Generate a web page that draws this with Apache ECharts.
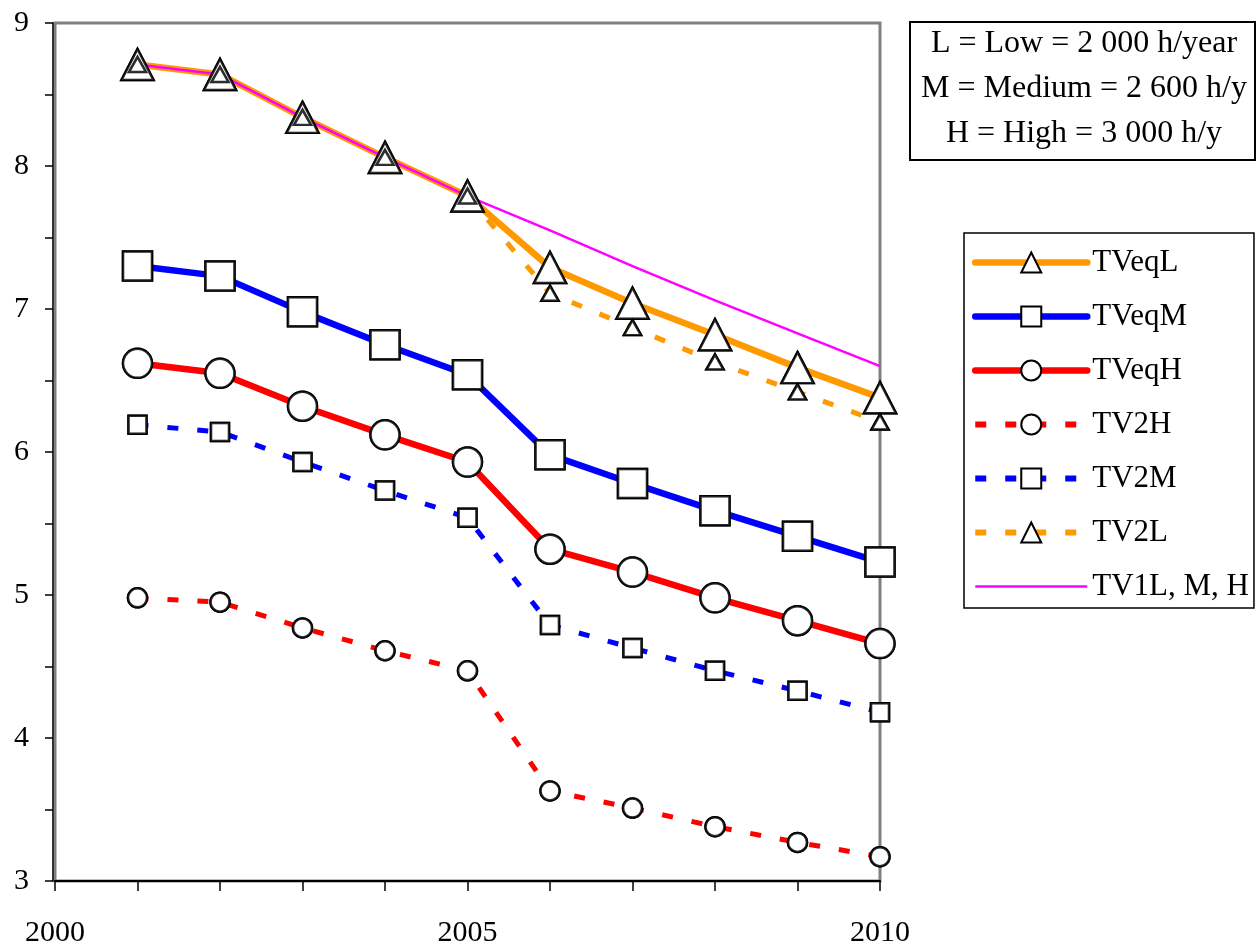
<!DOCTYPE html>
<html><head><meta charset="utf-8">
<script src="https://cdn.jsdelivr.net/npm/echarts@6/dist/echarts.min.js"></script>
<style>html,body{margin:0;padding:0;background:#fff}#c{width:1257px;height:948px}</style>
</head><body><div id="c"></div>
<script>
const years = [2001, 2002, 2003, 2004, 2005, 2006, 2007, 2008, 2009, 2010];
const xTickLabels = [2000, 2005, 2010];
const yTickLabels = [3, 4, 5, 6, 7, 8, 9];
const TVeqL = [8.71, 8.64, 8.34, 8.06, 7.79, 7.29, 7.04, 6.82, 6.59, 6.38];
const TVeqM = [7.30, 7.23, 6.98, 6.75, 6.54, 5.98, 5.78, 5.59, 5.41, 5.23];
const TVeqH = [6.62, 6.55, 6.32, 6.12, 5.93, 5.32, 5.16, 4.98, 4.82, 4.66];
const TV2H  = [4.98, 4.95, 4.77, 4.61, 4.47, 3.63, 3.51, 3.38, 3.27, 3.17];
const TV2M  = [6.19, 6.14, 5.93, 5.73, 5.54, 4.79, 4.63, 4.47, 4.33, 4.18];
const TV2L  = [8.71, 8.64, 8.34, 8.06, 7.79, 7.11, 6.87, 6.63, 6.42, 6.21];
const TV1   = [8.71, 8.64, 8.34, 8.06, 7.79, 7.55, 7.30, 7.06, 6.83, 6.60];
const names = ['TVeqL', 'TVeqM', 'TVeqH', 'TV2H', 'TV2M', 'TV2L', 'TV1L, M, H'];
const boxText = ['L = Low = 2 000 h/year', 'M = Medium = 2 600 h/y', 'H = High = 3 000 h/y'];

const FONT = 'Liberation Serif';
const pairs = arr => years.map((y, i) => [y, arr[i]]);
const mk = {color: '#fff', borderColor: '#000', borderWidth: 2.5};
const DASH = [11, 19];
const SOLID_W = 6.5, DASH_W = 5, THIN_W = 2.5;

function line(name, arr, color, width, dash, symbol, size) {
  return {
    type: 'line', name, data: pairs(arr), z: 2, clip: false,
    symbol: symbol || 'none', symbolSize: size || 0, showSymbol: !!symbol,
    itemStyle: mk,
    lineStyle: {color, width, type: dash || 'solid', cap: 'butt'},
    emphasis: {disabled: true}, silent: true
  };
}
function dots(name, arr, symbol, size) {
  return {
    type: 'scatter', name: name + '_m', data: pairs(arr), z: 3, clip: false,
    symbol, symbolSize: size, itemStyle: mk, silent: true, emphasis: {disabled: true}
  };
}
const legendData = [
  {name: names[0], lineStyle: {width: SOLID_W, cap: 'round'}},
  {name: names[1], lineStyle: {width: SOLID_W, cap: 'round'}},
  {name: names[2], lineStyle: {width: SOLID_W, cap: 'round'}},
  {name: names[3], lineStyle: {width: DASH_W + 1}},
  {name: names[4], lineStyle: {width: DASH_W + 1}},
  {name: names[5], lineStyle: {width: DASH_W + 1}},
  {name: names[6], lineStyle: {width: THIN_W}, itemStyle: {color: 'rgba(0,0,0,0)', borderColor: 'rgba(0,0,0,0)', borderWidth: 0}}
];
const option = {
  animation: false,
  backgroundColor: '#fff',
  grid: {left: 55, right: 377, top: 23, bottom: 67, show: true, borderColor: '#808080', borderWidth: 3},
  xAxis: {
    type: 'value', min: 2000, max: 2010, interval: 1,
    axisLine: {show: true, lineStyle: {color: '#000', width: 2}},
    axisTick: {show: true, length: 10, lineStyle: {color: '#000', width: 1.5}},
    splitLine: {show: false},
    axisLabel: {margin: 37, fontFamily: FONT, fontSize: 30, color: '#000',
      formatter: v => xTickLabels.includes(v) ? String(v) : ''}
  },
  yAxis: {
    type: 'value', min: 3, max: 9, interval: 0.5, offset: 2,
    axisLine: {show: true, lineStyle: {color: '#333', width: 2}},
    axisTick: {show: true, length: 8, lineStyle: {color: '#000', width: 1.5}},
    splitLine: {show: false},
    axisLabel: {margin: 24, fontFamily: FONT, fontSize: 30, color: '#000',
      formatter: v => yTickLabels.includes(v) ? String(v) : ''}
  },
  legend: {
    orient: 'vertical', left: 964, top: 233,
    data: legendData,
    itemWidth: 112, itemHeight: 25, itemGap: 23, itemTextGap: 5,
    padding: [14, 5, 6, 8],
    borderColor: '#000', borderWidth: 1.5, backgroundColor: '#fff',
    selectedMode: false,
    textStyle: {fontFamily: FONT, fontSize: 31, color: '#000'}
  },
  graphic: [
    {type: 'rect', shape: {x: 910, y: 22, width: 345, height: 138}, style: {fill: '#fff', stroke: '#000', lineWidth: 2}},
    {type: 'text', style: {x: 1084, y: 89, text: boxText.join('\n'), fontFamily: FONT, fontSize: 32,
      lineHeight: 45, align: 'center', verticalAlign: 'middle', fill: '#000'}}
  ],
  series: [
    line(names[0], TVeqL, '#FF9900', SOLID_W, null, 'triangle', [32, 31]),
    line(names[1], TVeqM, '#0000FF', SOLID_W, null, 'rect', 29),
    line(names[2], TVeqH, '#FF0000', SOLID_W, null, 'circle', 29),
    line(names[3], TV2H, '#FF0000', DASH_W, DASH, 'circle', 19),
    line(names[4], TV2M, '#0000FF', DASH_W, DASH, 'rect', 18),
    line(names[5], TV2L, '#FF9900', DASH_W, DASH, 'triangle', [17, 15]),
    line(names[6], TV1, '#FF00FF', THIN_W, null, null, 0),
    dots(names[0], TVeqL, 'triangle', [32, 31]),
    dots(names[1], TVeqM, 'rect', 29),
    dots(names[2], TVeqH, 'circle', 29),
    dots(names[3], TV2H, 'circle', 19),
    dots(names[4], TV2M, 'rect', 18),
    dots(names[5], TV2L, 'triangle', [17, 15])
  ]
};
echarts.init(document.getElementById('c'), null, {renderer: 'canvas'}).setOption(option);
</script></body></html>
